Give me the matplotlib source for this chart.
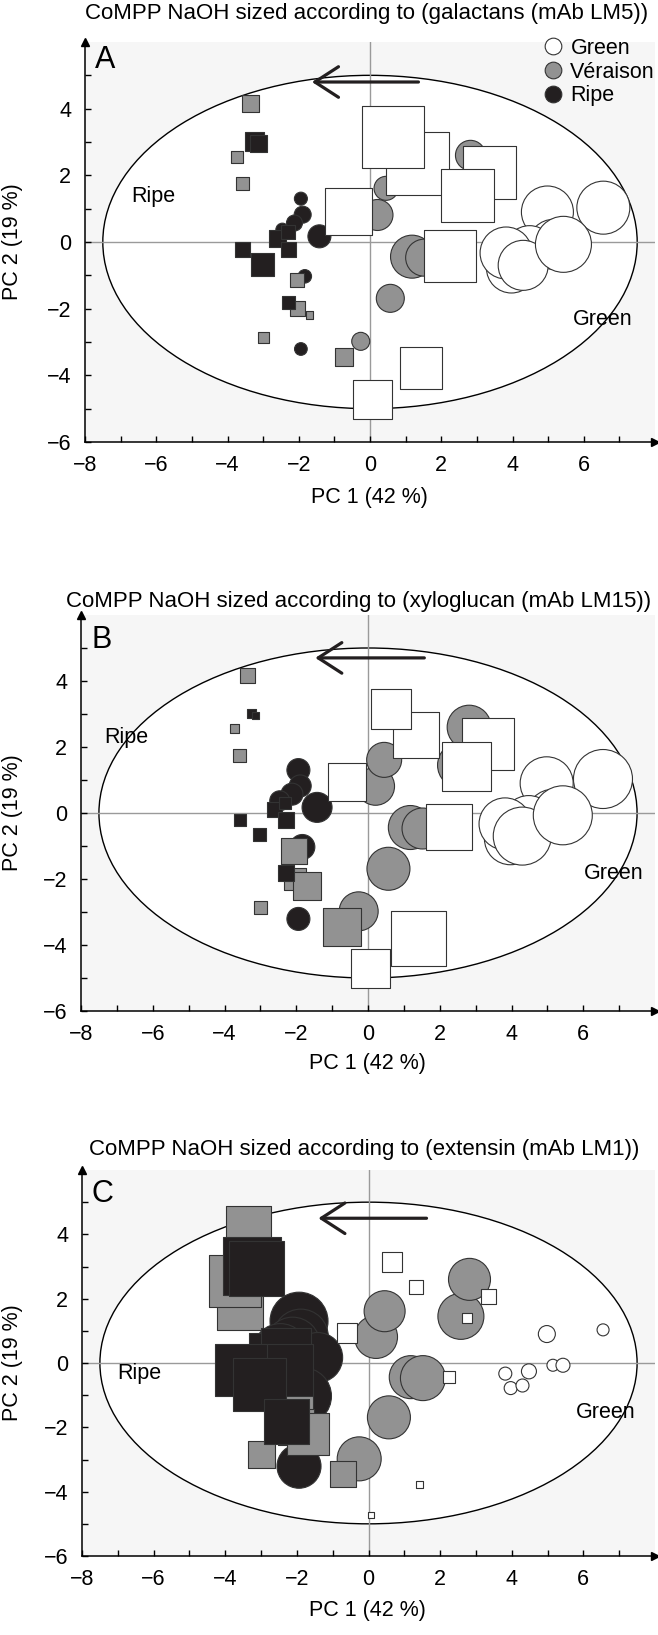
import matplotlib
matplotlib.use("Agg")
import matplotlib.pyplot as plt
from matplotlib.patches import Ellipse
from matplotlib.lines import Line2D

plt.rcParams['font.family'] = ['Liberation Sans', 'DejaVu Sans']

# ---------------- data (PCA scores, shared by all panels) ----------------
# Green berries, circles
gc_x = [6.55, 4.98, 5.15, 4.48, 3.97, 3.82, 4.30, 5.43]
gc_y = [1.03, 0.90, -0.07, -0.26, -0.78, -0.33, -0.70, -0.07]
# Green berries, squares
gs_x = [1.34, 0.65, 3.35, 2.75, -0.59, 2.25, 1.42, 0.06]
gs_y = [2.37, 3.15, 2.08, 1.40, 0.93, -0.42, -3.79, -4.72]
# Veraison, circles
vc_x = [2.58, 2.82, 0.21, 0.45, 1.18, 1.52, 0.57, -0.26]
vc_y = [1.45, 2.60, 0.81, 1.61, -0.44, -0.47, -1.69, -2.98]
# Veraison, squares
vs_x = [-3.35, -3.58, -3.72, -2.05, -2.03, -1.70, -3.00, -0.72]
vs_y = [4.17, 1.75, 2.55, -1.15, -2.00, -2.20, -2.85, -3.46]
# Ripe, circles
rc_x = [-1.94, -1.89, -2.12, -2.46, -1.42, -1.83, -1.94]
rc_y = [1.30, 0.82, 0.57, 0.37, 0.17, -1.03, -3.21]
# Ripe, squares
rs_x = [-3.25, -3.13, -2.61, -2.30, -2.28, -3.57, -3.03, -2.29]
rs_y = [3.01, 2.95, 0.12, 0.30, -0.21, -0.21, -0.66, -1.81]

# relative antibody signal (marker diameter) per panel
# Panel A: galactans (LM5)
lm5_gc = [53, 52, 50, 50, 50, 52, 50, 56]
lm5_gs = [63, 62, 53, 53, 47, 52, 42, 39]
lm5_vc = [30, 30, 31, 24, 43, 37, 28, 18]
lm5_vs = [17, 12.7, 12, 14.3, 14.7, 7.7, 11, 18]
lm5_rc = [13, 17, 16, 13, 23, 13.5, 12.7]
lm5_rs = [19, 17, 17, 14, 15, 15, 23, 13]
# Panel B: xyloglucan (LM15)
lm15_gc = [59, 53, 52, 52, 52, 52, 58, 59]
lm15_gs = [46, 40, 52, 49, 38, 46, 55, 39]
lm15_vc = [46, 44, 38, 35, 44, 41, 43, 39]
lm15_vs = [15, 13, 9, 26, 22, 28, 13, 38]
lm15_rc = [23, 22, 22, 20, 30, 25, 23]
lm15_rs = [9, 7, 15, 12, 16, 12, 13, 16]
# Panel C: extensin (LM1)
lm1_gc = [12, 17, 12, 15, 13, 13, 13, 14]
lm1_gs = [14, 20, 15, 10, 20, 12, 7, 6]
lm1_vc = [46, 42, 43, 41, 43, 45, 43, 44]
lm1_vs = [45, 46, 52, 36, 36, 42, 27, 26]
lm1_rc = [58, 55, 55, 55, 50, 57, 44]
lm1_rs = [58, 55, 52, 50, 52, 52, 53, 45]

titles = ["CoMPP NaOH sized according to (galactans (mAb LM5))",
          "CoMPP NaOH sized according to (xyloglucan (mAb LM15))",
          "CoMPP NaOH sized according to (extensin (mAb LM1))"]
letters = ["A", "B", "C"]
legend_labels = ["Green", "Véraison", "Ripe"]

# ---------------- styling ----------------
W, H = 658, 1635
C_GREEN, C_VER, C_RIPE = "#ffffff", "#929292", "#231f20"
EDGE = "#333333"
FS = 15.5
FS_TITLE = 16.0

fig = plt.figure(figsize=(W / 100, H / 100), dpi=100)

# axes boxes in pixels: left, right, top, bottom
boxes = [(85, 655, 42, 442), (81, 655, 615, 1011), (82, 655, 1170, 1556)]
title_pos = [(367, 14), (359, 602), (364, 1150)]
xlabel_y = [498, 1063, 1610]
letter_pos = [(-7.72, 5.45), (-7.72, 5.25), (-7.74, 5.25)]
arrow_pos = [((1.36, 4.8), (-1.63, 4.8)), ((1.57, 4.7), (-1.47, 4.7)), ((1.62, 4.5), (-1.40, 4.5))]
ripe_pos = [(-6.08, 1.36), (-6.73, 2.3), (-6.4, -0.34)]
green_pos = [(6.52, -2.33), (6.84, -1.82), (6.63, -1.55)]

sizes = [
    (lm5_gc, lm5_gs, lm5_vc, lm5_vs, lm5_rc, lm5_rs),
    (lm15_gc, lm15_gs, lm15_vc, lm15_vs, lm15_rc, lm15_rs),
    (lm1_gc, lm1_gs, lm1_vc, lm1_vs, lm1_rc, lm1_rs),
]


def area(d):
    return [(v * 0.72) ** 2 for v in d]


for i in range(3):
    l, r, t, b = boxes[i]
    ax = fig.add_axes([l / W, 1 - b / H, (r - l) / W, (b - t) / H])
    ax.set_xlim(-8, 8)
    ax.set_ylim(-6, 6)
    ax.set_facecolor("#f6f6f6")
    for s in ("top", "right"):
        ax.spines[s].set_visible(False)
    for s in ("left", "bottom"):
        ax.spines[s].set_linewidth(1.1)
    ax.plot(0, 1, "^k", transform=ax.transAxes, clip_on=False, ms=6)
    ax.plot(1, 0, ">k", transform=ax.transAxes, clip_on=False, ms=6)

    ax.add_patch(Ellipse((0, 0), 15, 10, facecolor="white", edgecolor="black",
                         lw=1.0, zorder=1))
    ax.axhline(0, color="#9a9a9a", lw=1.0, zorder=1.5)
    ax.axvline(0, color="#9a9a9a", lw=1.0, zorder=1.5)

    ax.set_xticks(range(-8, 7, 2))
    ax.set_xticks(range(-8, 8), minor=True)
    ax.set_yticks(range(-6, 5, 2))
    ax.set_yticks(range(-6, 6), minor=True)
    ax.tick_params(which="both", direction="in", length=4, width=1,
                   labelsize=FS)
    ax.tick_params(axis="y", pad=10)
    ax.tick_params(axis="x", pad=9)

    s_gc, s_gs, s_vc, s_vs, s_rc, s_rs = sizes[i]
    kw = dict(edgecolors=EDGE, linewidths=0.8)
    ax.scatter(gc_x, gc_y, s=area(s_gc), marker="o", facecolors=C_GREEN, zorder=2, **kw)
    ax.scatter(vc_x, vc_y, s=area(s_vc), marker="o", facecolors=C_VER, zorder=2.1, **kw)
    ax.scatter(rc_x, rc_y, s=area(s_rc), marker="o", facecolors=C_RIPE, zorder=2.2, **kw)
    ax.scatter(vs_x, vs_y, s=area(s_vs), marker="s", facecolors=C_VER, zorder=3, **kw)
    ax.scatter(rs_x, rs_y, s=area(s_rs), marker="s", facecolors=C_RIPE, zorder=3.1, **kw)
    ax.scatter(gs_x, gs_y, s=area(s_gs), marker="s", facecolors=C_GREEN, zorder=3.2, **kw)

    (tx, ty), (hx, hy) = arrow_pos[i]
    ax.annotate("", xy=(hx, hy), xytext=(tx, ty),
                arrowprops=dict(arrowstyle="->,head_length=0.85,head_width=0.55",
                                lw=2.3, color=C_RIPE, shrinkA=0, shrinkB=0,
                                mutation_scale=20), zorder=4)

    ax.text(*ripe_pos[i], "Ripe", fontsize=FS, ha="center", va="center", zorder=5)
    ax.text(*green_pos[i], "Green", fontsize=FS, ha="center", va="center", zorder=5)
    ax.text(*letter_pos[i], letters[i], fontsize=22, ha="left", va="center", zorder=5)

    tx_, ty_ = title_pos[i]
    fig.text(tx_ / W, 1 - ty_ / H, titles[i], fontsize=FS_TITLE, ha="center", va="center")
    fig.text(((l + r) / 2) / W - 0.001, 1 - xlabel_y[i] / H, "PC 1 (42 %)",
             fontsize=FS, ha="center", va="center")
    fig.text(13 / W, 1 - ((t + b) / 2) / H, "PC 2 (19 %)", fontsize=FS,
             ha="center", va="center", rotation=90)

    if i == 0:
        handles = [Line2D([], [], ls="", marker="o", markersize=12,
                          markerfacecolor=c, markeredgecolor=EDGE, markeredgewidth=0.8)
                   for c in (C_GREEN, C_VER, C_RIPE)]
        ax.legend(handles, legend_labels, loc="upper right",
                  bbox_to_anchor=(1.0, 1.01), frameon=False, fontsize=FS,
                  handlelength=1.0, handletextpad=0.3, labelspacing=0.12,
                  borderpad=0.0, borderaxespad=0.0)

fig.savefig("out.png", dpi=100)
